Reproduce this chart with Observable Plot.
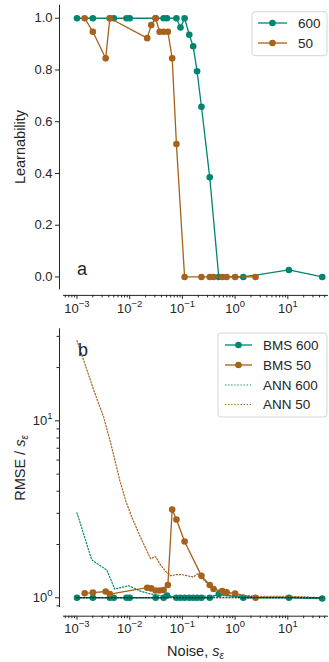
<!DOCTYPE html>
<html><head><meta charset="utf-8">
<script src="https://cdn.jsdelivr.net/npm/d3@7"></script>
<script src="https://cdn.jsdelivr.net/npm/@observablehq/plot@0.6"></script>
<style>
body{margin:0;background:#fff;}
#wrap{position:relative;width:329px;height:662px;overflow:hidden;font-family:"Liberation Sans",Arial,sans-serif;}
#wrap > svg{position:absolute;left:0;}
</style></head><body><div id="wrap"></div>
<script>
// ---- data ----
const noise600 = [0.001, 0.002, 0.0042, 0.005, 0.0087, 0.01, 0.031, 0.044, 0.051, 0.077, 0.092, 0.11, 0.135, 0.16, 0.19, 0.23, 0.33, 0.49, 1.43, 10.5, 45];
const learn600 = [1, 1, 1, 1, 1, 1, 1, 1, 1, 1, 0.964, 1, 0.936, 0.892, 0.795, 0.658, 0.385, 0, 0, 0.027, 0];
const rmse600  = [1.0, 1.0, 1.0, 1.0, 1.0, 1.0, 1.0, 1.0, 1.03, 1.0, 1.0, 1.0, 1.0, 1.0, 1.0, 1.0, 1.0, 1.05, 1.0, 1.0, 0.99];
const noise50  = [0.0014, 0.002, 0.0035, 0.0042, 0.0215, 0.0256, 0.031, 0.037, 0.044, 0.053, 0.064, 0.077, 0.11, 0.23, 0.33, 0.39, 0.57, 0.69, 1.0, 2.44];
const learn50  = [1, 0.948, 0.845, 1, 0.923, 0.974, 1, 0.948, 0.948, 0.948, 0.845, 0.514, 0, 0, 0, 0, 0, 0, 0, 0];
const rmse50   = [1.06, 1.07, 1.085, 1.05, 1.14, 1.13, 1.10, 1.10, 1.105, 1.18, 3.15, 2.77, 2.08, 1.33, 1.18, 1.12, 1.09, 1.075, 1.055, 1.0];
const annNoise600 = [0.001, 0.0019, 0.0037, 0.0052, 0.0096, 0.016, 0.025, 0.038, 0.06, 0.1, 0.2, 0.5, 1, 2.5, 10, 45];
const ann600      = [3.02, 1.64, 1.43, 1.12, 1.17, 1.09, 1.05, 1.03, 1.02, 1.02, 1.02, 1.03, 1.02, 1.01, 1.01, 1.0];
const annNoise50  = [0.001, 0.0021, 0.0032, 0.0044, 0.0065, 0.0085, 0.011, 0.016, 0.025, 0.031, 0.037, 0.048, 0.06, 0.075, 0.1, 0.16, 0.2, 0.23, 0.35, 0.6, 1.0, 2.5, 10, 45];
const ann50       = [28.4, 14.8, 10.5, 7.4, 4.6, 3.5, 2.85, 2.2, 1.66, 1.71, 1.56, 1.41, 1.33, 1.35, 1.35, 1.31, 1.37, 1.3, 1.15, 1.07, 1.04, 1.02, 1.02, 1.0];
const refNoise = [0.001, 45];
const refLevel = [1, 1];
const xMajorTicks = [1e-3, 1e-2, 1e-1, 1, 10];
const learnTicks = [0, 0.2, 0.4, 0.6, 0.8, 1.0];
const rmseMajorTicks = [1, 10];
const rmseMinorTicks = [0.9, 2, 3, 4, 5, 6, 7, 8, 9, 20, 30];
const legendA = ["600", "50"];
const legendB = ["BMS 600", "BMS 50", "ANN 600", "ANN 50"];

// ---- style ----
const TEAL = "#018571", BROWN = "#a6611a", INK = "#262626";
const FONT = "Liberation Sans, Arial, sans-serif";
const DOT = "1.3,1.8";
const xDomain = [Math.pow(10, -3.256), Math.pow(10, 1.772)];
const minorX = [];
for (let e = -4; e <= 1; e++) for (let k = 2; k <= 9; k++) { const v = k * Math.pow(10, e); if (v >= xDomain[0] && v <= xDomain[1]) minorX.push(v); }
const fmtPow = d => "10^" + Math.round(Math.log10(d));
const rows = (xs, ys) => xs.map((x, i) => ({x, y: ys[i]}));

const wrap = document.getElementById("wrap");

function superscripts(svg) {
  d3.select(svg).selectAll("text").each(function () {
    const m = /^10\^(-?\d+)$/.exec(this.textContent.trim());
    if (!m) return;
    const el = d3.select(this);
    el.text("");
    el.append("tspan").text("10");
    el.append("tspan").attr("dy", "-6").attr("font-size", "9.5px").text(m[1].replace("-", "\u2212"));
  });
}

// ---- panel a ----
const A600 = rows(noise600, learn600), A50 = rows(noise50, learn50);
const pa = Plot.plot({
  width: 329, height: 325, marginLeft: 63, marginRight: 1, marginTop: 4.8, marginBottom: 35.6,
  style: {fontFamily: FONT, fontSize: "13px", color: INK, background: "transparent", overflow: "visible"},
  x: {type: "log", domain: xDomain},
  y: {domain: [-0.05, 1.05]},
  marks: [
    Plot.ruleX([xDomain[0]], {dx: -4, stroke: INK, strokeWidth: 1}),
    Plot.ruleY([-0.05], {dy: 5.5, stroke: INK, strokeWidth: 1}),
    Plot.axisX(minorX, {tickSize: 2.5, tickFormat: () => "", dy: 5.5, label: null, color: INK}),
    Plot.axisX(xMajorTicks, {tickSize: 4, tickPadding: 4, tickFormat: fmtPow, dy: 5.5, label: null, color: INK}),
    Plot.axisY(learnTicks, {tickSize: 4, tickPadding: 3, dx: -4, tickFormat: d => d.toFixed(1), label: null, color: INK}),
    Plot.line(A600, {x: "x", y: "y", stroke: TEAL, strokeWidth: 1.3}),
    Plot.dot(A600, {x: "x", y: "y", r: 3.3, fill: TEAL}),
    Plot.line(A50, {x: "x", y: "y", stroke: BROWN, strokeWidth: 1.3}),
    Plot.dot(A50, {x: "x", y: "y", r: 3.3, fill: BROWN})
  ]
});
pa.style.top = "0px";
superscripts(pa);
wrap.appendChild(pa);

// ---- panel b ----
const B600 = rows(noise600, rmse600), B50 = rows(noise50, rmse50);
const N600 = rows(annNoise600, ann600), N50 = rows(annNoise50, ann50), REF = rows(refNoise, refLevel);
const yDomB = [Math.pow(10, -0.055), Math.pow(10, 1.52)];
const pb = Plot.plot({
  width: 329, height: 342, marginLeft: 63, marginRight: 1, marginTop: 8.3, marginBottom: 55,
  style: {fontFamily: FONT, fontSize: "13px", color: INK, background: "transparent", overflow: "visible"},
  x: {type: "log", domain: xDomain},
  y: {type: "log", domain: yDomB},
  marks: [
    Plot.ruleX([xDomain[0]], {dx: -4, stroke: INK, strokeWidth: 1}),
    Plot.ruleY([yDomB[0]], {dy: 8.7, stroke: INK, strokeWidth: 1}),
    Plot.axisX(minorX, {tickSize: 2.5, tickFormat: () => "", dy: 8.7, label: null, color: INK}),
    Plot.axisX(xMajorTicks, {tickSize: 4, tickPadding: 4, tickFormat: fmtPow, dy: 8.7, label: null, color: INK}),
    Plot.axisY(rmseMinorTicks, {tickSize: 2.5, tickFormat: () => "", dx: -4, label: null, color: INK}),
    Plot.axisY(rmseMajorTicks, {tickSize: 4, tickPadding: 3, dx: -4, tickFormat: fmtPow, label: null, color: INK}),
    Plot.line(B600, {x: "x", y: "y", stroke: TEAL, strokeWidth: 1.3}),
    Plot.dot(B600, {x: "x", y: "y", r: 3.3, fill: TEAL}),
    Plot.line(B50, {x: "x", y: "y", stroke: BROWN, strokeWidth: 1.3}),
    Plot.dot(B50, {x: "x", y: "y", r: 3.3, fill: BROWN}),
    Plot.line(N600, {x: "x", y: "y", stroke: TEAL, strokeWidth: 1.2, strokeDasharray: DOT}),
    Plot.line(N50, {x: "x", y: "y", stroke: BROWN, strokeWidth: 1.2, strokeDasharray: DOT}),
    Plot.line(REF, {x: "x", y: "y", stroke: "#111", strokeWidth: 1.2, strokeDasharray: DOT})
  ]
});
pb.style.top = "320px";
superscripts(pb);
wrap.appendChild(pb);

// ---- overlay: labels & legends ----
const ov = d3.select(wrap).append("svg").attr("width", 329).attr("height", 662)
  .style("top", "0px").attr("font-family", FONT).attr("fill", INK);

ov.append("text").attr("x", 77).attr("y", 275).attr("font-size", "18px").text("a");
ov.append("text").attr("x", 78).attr("y", 356).attr("font-size", "18px").text("b");

ov.append("text").attr("transform", "translate(24.5,147) rotate(-90)").attr("text-anchor", "middle")
  .attr("font-size", "14.5px").text("Learnability");
const yl = ov.append("text").attr("transform", "translate(24.5,468) rotate(-90)").attr("text-anchor", "middle").attr("font-size", "14.5px");
yl.append("tspan").text("RMSE / ");
yl.append("tspan").attr("font-style", "italic").text("s");
yl.append("tspan").attr("font-style", "italic").attr("font-size", "10px").attr("dy", "3").text("\u03b5");
const xl = ov.append("text").attr("x", 195.5).attr("y", 656).attr("text-anchor", "middle").attr("font-size", "14.5px");
xl.append("tspan").text("Noise, ");
xl.append("tspan").attr("font-style", "italic").text("s");
xl.append("tspan").attr("font-style", "italic").attr("font-size", "10px").attr("dy", "3").text("\u03b5");

function legend(x0, y0, w, h, items, rowY, lx1, lx2, tx) {
  ov.append("rect").attr("x", x0).attr("y", y0).attr("width", w).attr("height", h).attr("rx", 3)
    .attr("fill", "#fff").attr("fill-opacity", 0.8).attr("stroke", "#d5d5d5").attr("stroke-width", 1);
  items.forEach((it, i) => {
    const y = rowY[i];
    ov.append("line").attr("x1", lx1).attr("x2", lx2).attr("y1", y).attr("y2", y)
      .attr("stroke", it.color).attr("stroke-width", it.dotted ? 1.2 : 1.3).attr("stroke-dasharray", it.dotted ? DOT : null);
    if (!it.dotted) ov.append("circle").attr("cx", (lx1 + lx2) / 2).attr("cy", y).attr("r", 3.3).attr("fill", it.color);
    ov.append("text").attr("x", tx).attr("y", y + 4.8).attr("font-size", "13.5px").text(it.label);
  });
}
legend(252, 11.7, 75, 44, [
  {label: legendA[0], color: TEAL}, {label: legendA[1], color: BROWN}
], [23, 43], 258, 287, 298);
legend(218, 333, 109, 84, [
  {label: legendB[0], color: TEAL}, {label: legendB[1], color: BROWN},
  {label: legendB[2], color: TEAL, dotted: true}, {label: legendB[3], color: BROWN, dotted: true}
], [345, 365, 385, 404.5], 225, 252, 263);
</script></body></html>
